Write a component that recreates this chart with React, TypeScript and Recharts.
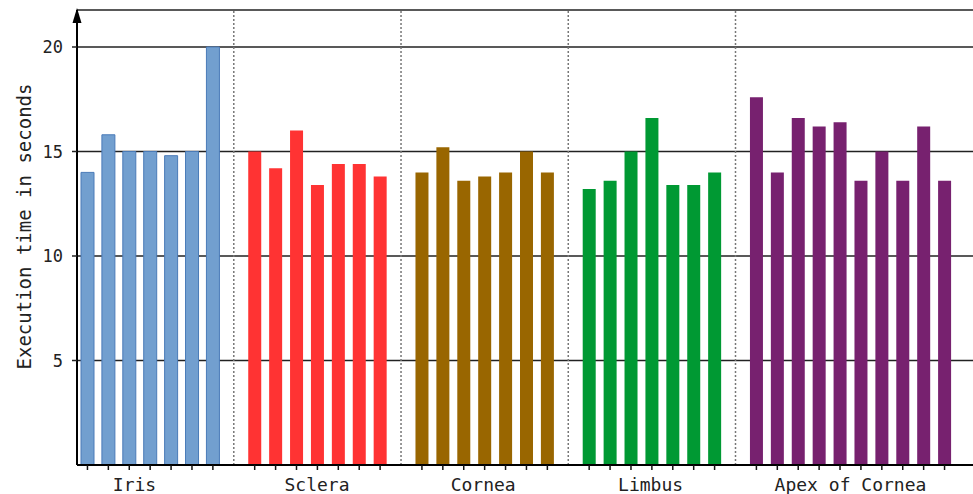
import React from 'react';
import {
  BarChart,
  Bar,
  Cell,
  XAxis,
  YAxis,
  CartesianGrid,
  ReferenceLine,
} from 'recharts';

const groups = ['Iris', 'Sclera', 'Cornea', 'Limbus', 'Apex of Cornea'];
const groupColors = ['#729fcf', '#ff3333', '#996600', '#009933', '#77216f'];

const irisTimes = [14.0, 15.8, 15.0, 15.0, 14.8, 15.0, 20.0];
const scleraTimes = [15.0, 14.2, 16.0, 13.4, 14.4, 14.4, 13.8];
const corneaTimes = [14.0, 15.2, 13.6, 13.8, 14.0, 15.0, 14.0];
const limbusTimes = [13.2, 13.6, 15.0, 16.6, 13.4, 13.4, 14.0];
const apexTimes = [17.6, 14.0, 16.6, 16.2, 16.4, 13.6, 15.0, 13.6, 16.2, 13.6];

// where the group names sit, in bar slots from the left
const labelSlots = [2.75, 11.48, 19.43, 27.44, 37.0];
const yTicks = [5, 10, 15, 20];

const FONT = '"DejaVu Sans Mono", monospace';

type Row = { slot: string; time: number | null; group: number };

// one slot per bar, an empty slot between groups for the dotted divider
const allTimes = [irisTimes, scleraTimes, corneaTimes, limbusTimes, apexTimes];
const rows: Row[] = [];
const separators: string[] = [];
allTimes.forEach((times, g) => {
  times.forEach((t, i) => rows.push({ slot: `${groups[g]}-${i}`, time: t, group: g }));
  if (g < allTimes.length - 1) {
    const sep = `sep-${g}`;
    rows.push({ slot: sep, time: null, group: -1 });
    separators.push(sep);
  }
});

function SlotTick(props: any) {
  const { x, y, payload } = props;
  if (String(payload.value).startsWith('sep')) return null;
  return <line x1={x} y1={y} x2={x} y2={y + 5} stroke="#111" strokeWidth={1.5} />;
}

function GroupTick(props: any) {
  const { x, y, payload, index } = props;
  const g = labelSlots.findIndex((s) => Math.floor(s) === index);
  if (g < 0) return null;
  const half = payload.offset || 10.45;
  const lx = x + (labelSlots[g] - index - 0.5) * 2 * half;
  return (
    <text x={lx} y={y} dy="0.71em" textAnchor="middle" fontFamily={FONT} fontSize={18} fill="#222">
      {groups[g]}
    </text>
  );
}

function YTitle(props: any) {
  const vb = props.viewBox || { x: 0, y: 10, width: 77, height: 455 };
  const ax = vb.x + vb.width;
  const cy = vb.y + vb.height / 2 - 11;
  return (
    <g>
      <text
        x={24}
        y={cy}
        transform={`rotate(-90 24 ${cy})`}
        textAnchor="middle"
        dominantBaseline="central"
        fontFamily={FONT}
        fontSize={19}
        fill="#222"
      >
        Execution time in seconds
      </text>
      <path d={`M${ax},${vb.y - 2} L${ax - 4.5},${vb.y + 13} L${ax + 4.5},${vb.y + 13} Z`} fill="#000" />
    </g>
  );
}

export default function App() {
  return (
    <div style={{ position: 'absolute', left: 0, top: 0, background: '#fff' }}>
      <BarChart
        width={973}
        height={494}
        data={rows}
        margin={{ top: 10, right: 0, left: 0, bottom: 0 }}
        barCategoryGap={0}
      >
        <CartesianGrid vertical={false} stroke="#222" strokeWidth={1.5} />
        <XAxis
          dataKey="slot"
          height={8}
          padding={{ left: 0, right: 18 }}
          axisLine={{ stroke: '#000', strokeWidth: 2 }}
          tickLine={false}
          tickSize={0}
          tickMargin={0}
          interval={0}
          tick={<SlotTick />}
        />
        <XAxis
          xAxisId="groups"
          dataKey="slot"
          height={21}
          padding={{ left: 0, right: 18 }}
          axisLine={false}
          tickLine={false}
          tickSize={0}
          tickMargin={5}
          interval={0}
          tick={<GroupTick />}
        />
        <YAxis
          width={77}
          domain={[0, 21.77]}
          ticks={yTicks}
          allowDataOverflow
          axisLine={{ stroke: '#000', strokeWidth: 2 }}
          tickLine={{ stroke: '#222', strokeWidth: 1.5 }}
          tickSize={5}
          tickMargin={9}
          tick={{ fontFamily: FONT, fontSize: 17, fill: '#222' }}
          label={<YTitle />}
        />
        {separators.map((s) => (
          <ReferenceLine key={s} x={s} stroke="#777" strokeWidth={1.5} strokeDasharray="2 2" />
        ))}
        <Bar dataKey="time" barSize={13} isAnimationActive={false}>
          {rows.map((r) => (
            <Cell
              key={r.slot}
              fill={r.group >= 0 ? groupColors[r.group] : 'none'}
              stroke={r.group === 0 ? '#4a7bb8' : 'none'}
              strokeWidth={1}
            />
          ))}
        </Bar>
      </BarChart>
    </div>
  );
}
